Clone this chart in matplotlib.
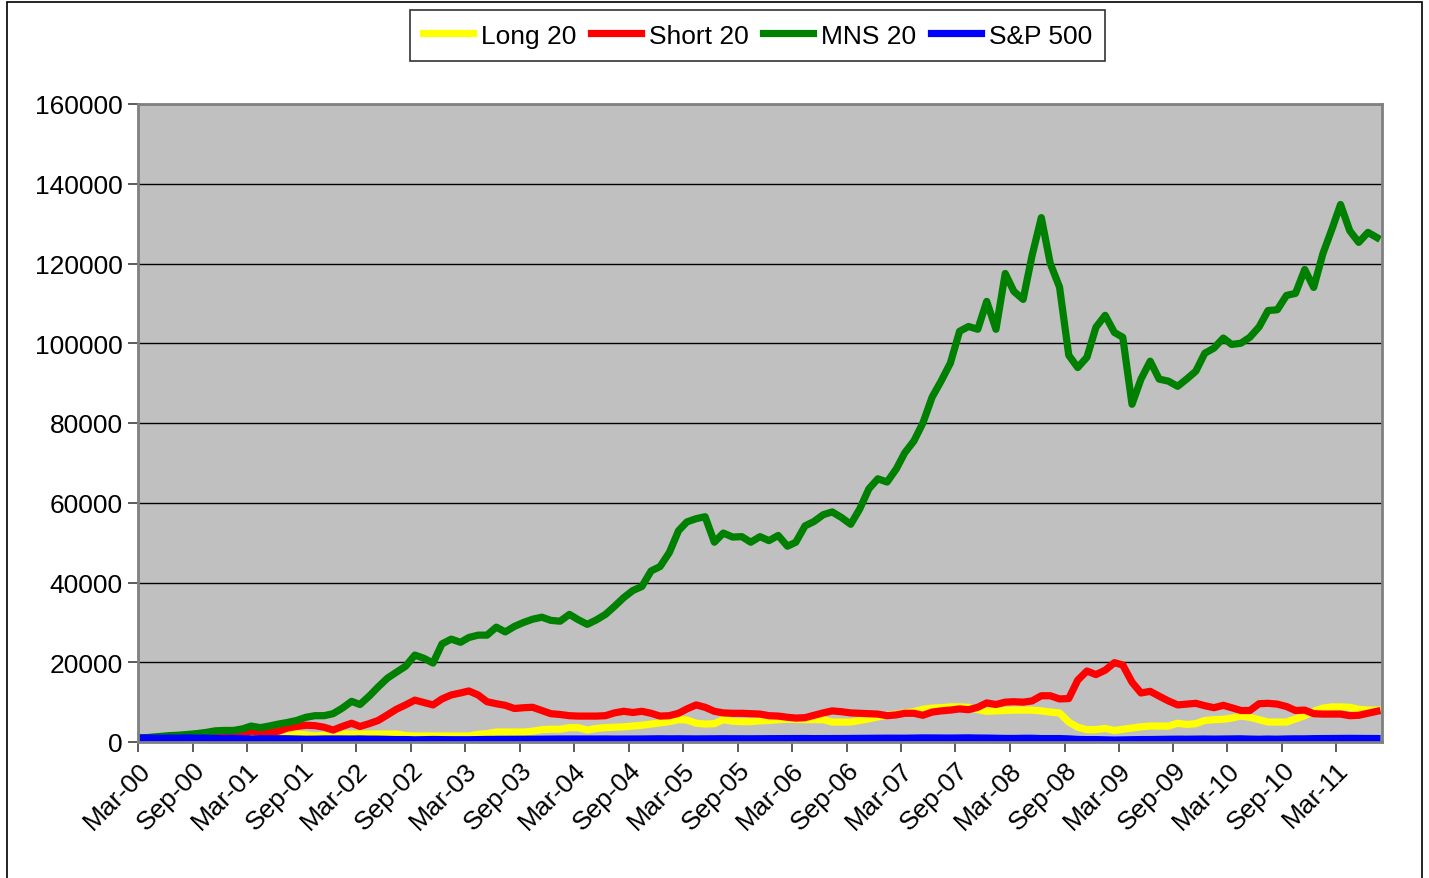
import matplotlib
matplotlib.use("Agg")
import matplotlib.pyplot as plt
import matplotlib.dates as mdates
import matplotlib.patches as patches
import pandas as pd

plt.rcParams['font.family'] = ['Liberation Sans', 'DejaVu Sans']

# monthly points, Mar-00 .. Jul-11 (mid-month)
dates = pd.date_range(start='2000-03-01', periods=137, freq='MS') + pd.Timedelta(days=14)

long20 = [
    1000, 1000, 1000, 1100, 1100, 1200, 1200, 1300, 1300, 1400,
    1400, 1500, 1500, 1600, 1700, 1800, 1900, 2000, 1800, 1500,
    1700, 1900, 2000, 2000, 2000, 2000, 2000, 2000, 2000, 1600,
    1500, 1500, 1500, 1500, 1500, 1500, 1500, 1900, 2100, 2500,
    2500, 2500, 2500, 2700, 3100, 3200, 3200, 3600, 3600, 3000,
    3400, 3600, 3700, 3800, 4000, 4200, 4500, 4800, 5100, 5600,
    5500, 4700, 4500, 4600, 5600, 5200, 5100, 5100, 5300, 5400,
    5600, 5700, 5700, 5600, 5600, 5600, 5000, 5000, 5000, 5400,
    5800, 6300, 6700, 7000, 7300, 7600, 8200, 8500, 8600, 8800,
    8800, 8700, 8100, 7700, 7800, 7900, 8000, 8000, 8000, 7800,
    7500, 7300, 5000, 3700, 3100, 3100, 3400, 2900, 3200, 3500,
    3800, 4000, 4000, 4000, 4700, 4400, 4600, 5400, 5600, 5700,
    6000, 6500, 6200, 5600, 5000, 5000, 5000, 5800, 6600, 7700,
    8500, 8800, 8800, 8700, 8200, 8000, 8000,
]

short20 = [
    1000, 1100, 1200, 1300, 1400, 1500, 1600, 1900, 2300, 2500,
    2200, 2100, 2700, 2600, 2500, 2700, 3500, 3900, 4200, 4100,
    3700, 3000, 3900, 4700, 3900, 4600, 5400, 6800, 8200, 9300,
    10500, 9900, 9300, 10800, 11800, 12300, 12800, 11800, 10100, 9600,
    9200, 8400, 8600, 8700, 7900, 7100, 6900, 6600, 6500, 6500,
    6500, 6600, 7300, 7700, 7400, 7700, 7200, 6500, 6600, 7200,
    8300, 9300, 8700, 7700, 7300, 7200, 7200, 7100, 7000, 6600,
    6500, 6200, 6000, 6100, 6700, 7300, 7800, 7600, 7300, 7200,
    7100, 7000, 6600, 6800, 7200, 7200, 6700, 7500, 7800, 8000,
    8300, 8100, 8700, 9800, 9400, 10000, 10100, 10000, 10300, 11600,
    11600, 10800, 10900, 15500, 17800, 16900, 18000, 19900, 19300, 15000,
    12300, 12700, 11500, 10300, 9300, 9500, 9700, 9100, 8600, 9200,
    8600, 7900, 7900, 9600, 9700, 9500, 8900, 7900, 8000, 7100,
    7000, 7000, 7000, 6600, 6700, 7200, 7700,
]

mns20 = [
    1000, 1200, 1400, 1600, 1700, 1900, 2100, 2400, 2800, 2900,
    2900, 3300, 4000, 3600, 4000, 4500, 4900, 5400, 6200, 6600,
    6600, 7100, 8500, 10200, 9400, 11500, 13800, 16000, 17500, 19000,
    21800, 21000, 19800, 24600, 25800, 25000, 26200, 26800, 26800, 28800,
    27600, 29000, 30000, 30800, 31300, 30500, 30300, 32000, 30700, 29500,
    30600, 32000, 34000, 36200, 38000, 39000, 42900, 44000, 47500, 53000,
    55200, 56000, 56500, 50100, 52400, 51400, 51500, 50100, 51500, 50500,
    51800, 49100, 50100, 54200, 55300, 57000, 57700, 56300, 54600, 58400,
    63500, 66000, 65200, 68500, 72500, 75500, 80000, 86500, 90500, 95000,
    103000, 104200, 103500, 110500, 103500, 117500, 113000, 111000, 122000, 131500,
    120000, 114100, 97000, 93900, 96500, 104000, 107000, 102700, 101500, 84700,
    91000, 95500, 91000, 90500, 89200, 91000, 93000, 97500, 98800, 101300,
    99700, 100000, 101500, 104100, 108200, 108400, 112000, 112500, 118500, 114000,
    122500, 128800, 134800, 128200, 125300, 127800, 126500,
]

sp500 = [
    1000, 969, 948, 971, 955, 1013, 959, 953, 877, 881,
    911, 827, 774, 833, 838, 817, 808, 757, 694, 707, 760, 766,
    754, 738, 765, 718, 712, 660, 608, 611, 544, 591, 624, 587,
    571, 561, 566, 612, 643, 650, 660, 672, 664, 701, 706, 742,
    754, 764, 751, 738, 748, 761, 735, 737, 744, 754, 783, 809,
    788, 803, 788, 772, 795, 795, 823, 814, 820, 805, 833, 833,
    854, 855, 864, 875, 847, 847, 852, 870, 891, 919, 935, 946,
    959, 939, 948, 989, 1021, 1003, 971, 983, 1019, 1033, 988, 979,
    920, 888, 883, 925, 934, 854, 845, 856, 778, 646, 598, 602,
    551, 490, 532, 582, 613, 613, 658, 681, 705, 691, 731, 744,
    716, 736, 780, 792, 726, 688, 735, 700, 761, 789, 788, 839,
    858, 885, 885, 910, 897, 881, 862,
]

series_names = ['Long 20', 'Short 20', 'MNS 20', 'S&P 500']
series_colors = ['#FFFF00', '#FF0000', '#008000', '#0000FF']

fig = plt.figure(figsize=(14.29, 8.79), dpi=100)
ax = fig.add_axes([138 / 1429, 136 / 879, 1244 / 1429, 638 / 879])
ax.set_facecolor('#C0C0C0')

for vals, name, col in zip([long20, short20, mns20, sp500], series_names, series_colors):
    ax.plot(dates, vals, color=col, lw=5.2, label=name, solid_joinstyle='round')

ax.set_ylim(0, 160000)
ax.set_yticks(range(0, 160001, 20000))
ax.set_xlim(pd.Timestamp('2000-03-01'), pd.Timestamp('2011-08-01'))
ticks = pd.date_range('2000-03-01', '2011-03-01', freq='6MS')
ax.set_xticks(ticks)
ax.xaxis.set_major_formatter(mdates.DateFormatter('%b-%y'))

ax.grid(axis='y', color='black', lw=1.0)
ax.set_axisbelow(True)
for s in ax.spines.values():
    s.set_color('#808080')
    s.set_linewidth(2)

ax.tick_params(axis='both', direction='out', length=7, width=1.2, color='#404040',
               labelsize=19, pad=4)
plt.setp(ax.get_xticklabels(), rotation=45, ha='right', rotation_mode='anchor')

leg = fig.legend(loc='upper center', bbox_to_anchor=(0.530, 0.993), ncol=4,
                 fontsize=19, frameon=True, fancybox=False, handlelength=1.9,
                 handletextpad=0.3, columnspacing=0.55, borderpad=0.5,
                 borderaxespad=0.2)
leg.get_frame().set_edgecolor('black')
leg.get_frame().set_linewidth(1.2)

# outer chart border
fig.patches.append(patches.Rectangle((7 / 1429, -0.05), 1415 / 1429, 1.05 - 3 / 879,
                                     transform=fig.transFigure, fill=False,
                                     edgecolor='black', lw=1.2))

fig.savefig('out.png', dpi=100)
